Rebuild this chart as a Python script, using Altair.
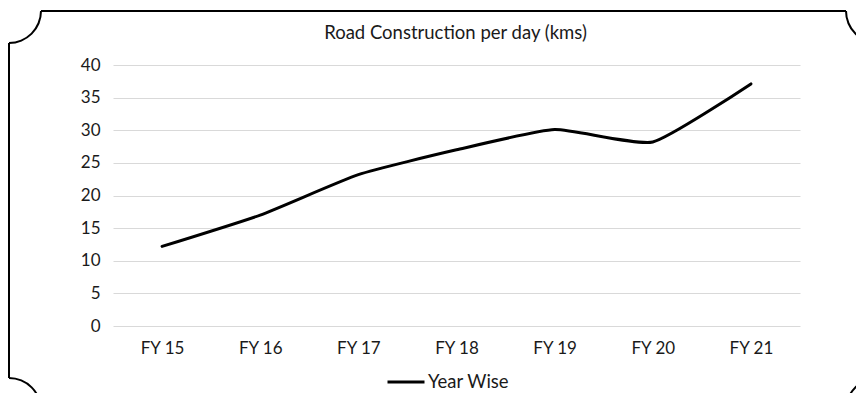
import math
import altair as alt
import pandas as pd

years = ["FY 15", "FY 16", "FY 17", "FY 18", "FY 19", "FY 20", "FY 21"]
km_per_day = [12.2, 17.0, 23.2, 27.0, 30.1, 28.2, 37.1]
series_name = "Year Wise"
y_ticks = [0, 5, 10, 15, 20, 25, 30, 35, 40]
title_text = "Road Construction per day (kms)"

W, H = 687, 261
FONT = "Lato"
TXT = "#1a1a1a"
FS = 17

df = pd.DataFrame({"year": years, "km": km_per_day, "series": [series_name] * len(years)})

line = alt.Chart(df).mark_line(strokeWidth=3, interpolate="cardinal", tension=0.5,
                               strokeCap="round").encode(
    x=alt.X("year:N", sort=years, title=None,
            axis=alt.Axis(labelAngle=0, domain=False, ticks=False, grid=False,
                          labelFont=FONT, labelFontSize=FS, labelColor=TXT, labelPadding=14)),
    y=alt.Y("km:Q", title=None, scale=alt.Scale(domain=[0, 40], nice=False),
            axis=alt.Axis(values=y_ticks, domain=False, ticks=False, gridColor="#d9d9d9",
                          gridWidth=1, labelFont=FONT, labelFontSize=FS, labelColor=TXT,
                          labelPadding=13)),
    color=alt.Color("series:N", scale=alt.Scale(range=["#000000"]),
                    legend=alt.Legend(title=None, orient="none", legendX=273, legendY=297,
                                      symbolType="stroke", symbolSize=1369, symbolStrokeWidth=3,
                                      labelFont=FONT, labelFontSize=18.5, labelColor=TXT,
                                      labelOffset=2)),
)

# decorative frame with scalloped corners (view coordinates)
frame_df = pd.DataFrame({"k": [0]})
base = alt.Chart(frame_df)
top_rule = base.mark_rule(color="black", strokeWidth=2).encode(
    x=alt.value(-72), x2=alt.value(733), y=alt.value(-54))
left_rule = base.mark_rule(color="black", strokeWidth=2).encode(
    x=alt.value(-104), y=alt.value(-22), y2=alt.value(313))

corners = [(-104, -54, math.pi / 2, math.pi),
           (765, -54, math.pi, 3 * math.pi / 2),
           (-104, 345, 0, math.pi / 2),
           (765, 345, 3 * math.pi / 2, 2 * math.pi)]
arcs = []
for cx, cy, t1, t2 in corners:
    arcs.append(base.mark_arc(innerRadius=31, outerRadius=33, color="black").encode(
        x=alt.value(cx), y=alt.value(cy), theta=alt.value(t1), theta2=alt.value(t2)))

title = base.mark_text(font=FONT, fontSize=18.5, color=TXT, align="center",
                       baseline="middle").encode(
    x=alt.value(W / 2 - 1), y=alt.value(-32), text=alt.value(title_text))

chart = alt.layer(top_rule, left_rule, *arcs, title, line).properties(
    width=W, height=H,
    autosize=alt.AutoSizeParams(type="none"),
    padding={"left": 105, "top": 57, "right": 56, "bottom": 67},
).configure_view(stroke=None)

chart.save("out.html", embed_options={"renderer": "svg", "actions": False})
